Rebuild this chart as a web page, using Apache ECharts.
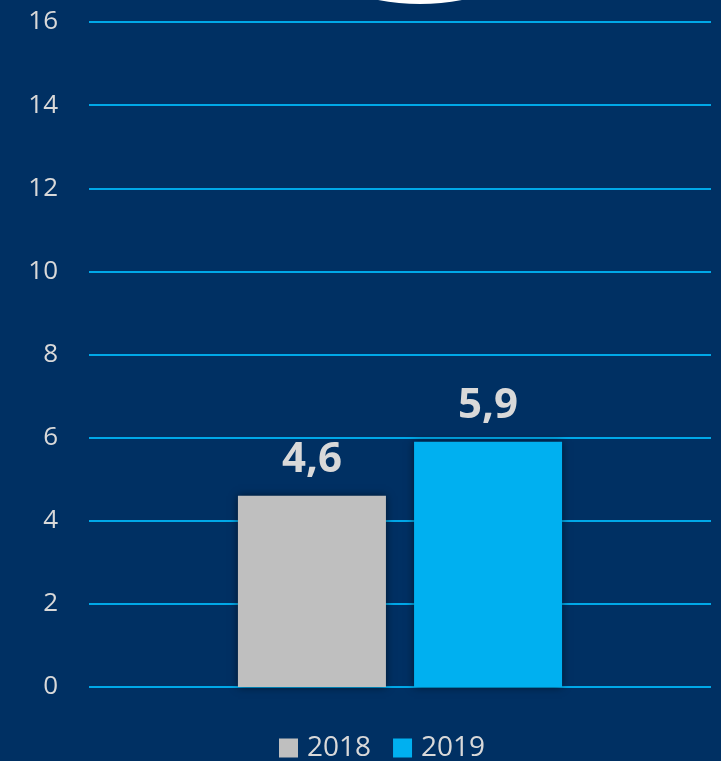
<!DOCTYPE html>
<html><head><meta charset="utf-8">
<script src="https://cdn.jsdelivr.net/npm/echarts@6/dist/echarts.min.js"></script>
<style>html,body{margin:0;padding:0;background:#003063;}#c{width:721px;height:761px;}</style>
</head><body><div id="c"></div>
<script>
var categories = [''];
var seriesNames = ['2018', '2019'];
var values2018 = [4.6];
var values2019 = [5.9];
var labels2018 = ['4,6'];
var labels2019 = ['5,9'];

var chart = echarts.init(document.getElementById('c'));
function mk(name, data, labels, color) {
  return {
    name: name, type: 'bar', data: data, barWidth: 148, barGap: '19%',
    itemStyle: { color: color, shadowBlur: 8, shadowColor: 'rgba(0,0,0,0.55)' },
    label: {
      show: true, position: 'top', distance: 15,
      formatter: function (p) { return labels[p.dataIndex]; },
      color: '#d9d9d9', fontSize: 42, fontWeight: 'bold', fontFamily: 'Open Sans'
    }
  };
}
chart.setOption({
  backgroundColor: '#003063',
  animation: false,
  grid: { left: 89, right: 10, top: 22, bottom: 74 },
  graphic: [{
    type: 'circle', shape: { cx: 420, cy: -218, r: 222 },
    style: { fill: '#ffffff' }
  }],
  legend: {
    data: seriesNames, top: 729, left: 274, itemWidth: 19, itemHeight: 19, itemGap: 22,
    icon: 'rect',
    textStyle: { color: '#d9d9d9', fontSize: 28, fontFamily: 'Open Sans', padding: [0, 0, 0, 4] }
  },
  xAxis: {
    type: 'category', data: categories,
    axisLine: { show: false }, axisTick: { show: false }, axisLabel: { show: false }
  },
  yAxis: {
    type: 'value', min: 0, max: 16, interval: 2,
    axisLine: { show: false }, axisTick: { show: false },
    axisLabel: { color: '#d9d9d9', fontSize: 26, fontFamily: 'Open Sans', margin: 31 },
    splitLine: { lineStyle: { color: '#00a8e8', width: 2 } }
  },
  series: [mk('2018', values2018, labels2018, '#bfbfbf'), mk('2019', values2019, labels2019, '#00b0f0')]
});
</script></body></html>
